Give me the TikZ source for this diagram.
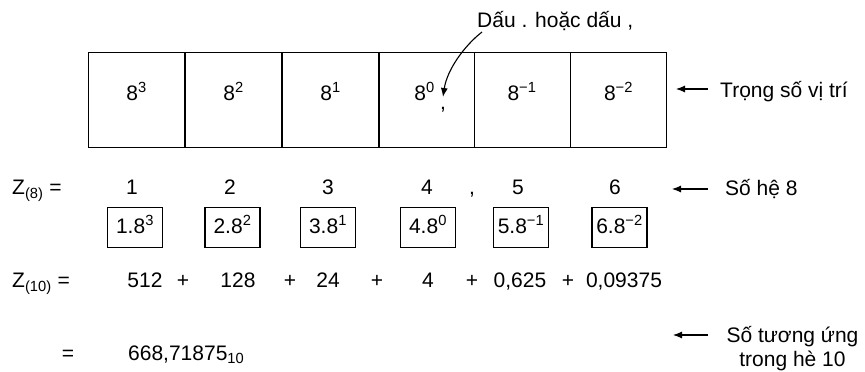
\documentclass[tikz,border=0pt]{standalone}
\usepackage{fontspec}
\setmainfont{Liberation Sans}
\usetikzlibrary{arrows.meta}
\newcommand\sups[1]{\textsuperscript{#1}}
\newcommand\subs[1]{\textsubscript{#1}}
\begin{document}
\begin{tikzpicture}[x=1pt,y=-1pt,
  every node/.style={font=\fontsize{21}{25}\selectfont, inner sep=0pt, text height=15pt, text depth=4pt},
  bigbox/.style={draw, line width=1pt, minimum width=96.5pt, minimum height=95pt, text height=, text depth=},
  smallbox/.style={draw, line width=1.1pt, minimum width=55pt, minimum height=40pt},
  arr/.style={line width=1.1pt, -{Latex[length=9pt,width=7pt]}}]
\useasboundingbox (0,0) rectangle (865,372);
% top row of weight boxes
\node[bigbox] (b1) at (136.5,99.5) {};
\node[bigbox] (b2) at (233.5,99.5) {};
\node[bigbox] (b3) at (330.5,99.5) {};
\node[bigbox, minimum width=95pt] (b4) at (426.5,99.5) {};
\node[bigbox, minimum width=96pt] (b5) at (522,99.5) {};
\node[bigbox] (b6) at (618.5,99.5) {};
\node (w1) at ([yshift=5pt]b1.center) {8\sups{3}};
\node (w2) at ([yshift=5pt]b2.center) {8\sups{2}};
\node (w3) at ([yshift=5pt]b3.center) {8\sups{1}};
\node (w4) at ([yshift=5pt,xshift=-2pt]b4.center) {8\sups{0}};
\node (w5) at ([yshift=5pt]b5.center) {8\sups{−1}};
\node (w6) at ([yshift=5pt]b6.center) {8\sups{−2}};
\node (cm) at (443,104) {,};
% decimal point label
\node[anchor=west] (dau) at (477,22) {Dấu . hoặc dấu ,};
\coordinate (cs) at (482,32);
\coordinate (ce) at (443,97);
\draw[arr] (cs) .. controls (464,46) and (447,70) .. (ce);
% weight label
\node[anchor=west] (t1) at (720,92) {Trọng số vị trí};
\coordinate (a1) at (708,89);
\coordinate (a1e) at (676,89);
\draw[arr] (a1) -- (a1e);
% row Z(8)
\node[anchor=west] (z8) at (12,189) {Z\subs{(8)} =};
\node (d1) at (132,189) {1};
\node (d2) at (230,189) {2};
\node (d3) at (328,189) {3};
\node (d4) at (427,189) {4};
\node (dc) at (472,189) {,};
\node (d5) at (518,189) {5};
\node (d6) at (615,189) {6};
\node[anchor=west] (t2) at (725,190) {Số hệ 8};
\coordinate (a2) at (708,189);
\coordinate (a2e) at (672,189);
\draw[arr] (a2) -- (a2e);
% products
\node[smallbox] (p1) at (135,227.5) {1.8\sups{3}};
\node[smallbox] (p2) at (232.5,227.5) {2.8\sups{2}};
\node[smallbox] (p3) at (328,227.5) {3.8\sups{1}};
\node[smallbox] (p4) at (428,227.5) {4.8\sups{0}};
\node[smallbox] (p5) at (521,227.5) {5.8\sups{−1}};
\node[smallbox] (p6) at (619.5,227.5) {6.8\sups{−2}};
% row Z(10)
\node[anchor=west] (z10) at (12,282) {Z\subs{(10)} =};
\node (v1) at (145,282) {512};
\node (s1) at (183,282) {+};
\node (v2) at (238,282) {128};
\node (s2) at (290,282) {+};
\node (v3) at (328,282) {24};
\node (s3) at (377,282) {+};
\node (v4) at (428,282) {4};
\node (s4) at (472,282) {+};
\node (v5) at (520,282) {0,625};
\node (s5) at (568,282) {+};
\node (v6) at (624,282) {0,09375};
% result
\node (eq) at (68,355) {=};
\node[anchor=west] (res) at (128,355) {668,71875\subs{10}};
\node (t3) at (792.5,337) {Số tương ứng};
\node (t4) at (792.5,361) {trong hè 10};
\coordinate (a3) at (708,335);
\coordinate (a3e) at (673,335);
\draw[arr] (a3) -- (a3e);
\end{tikzpicture}
\end{document}
